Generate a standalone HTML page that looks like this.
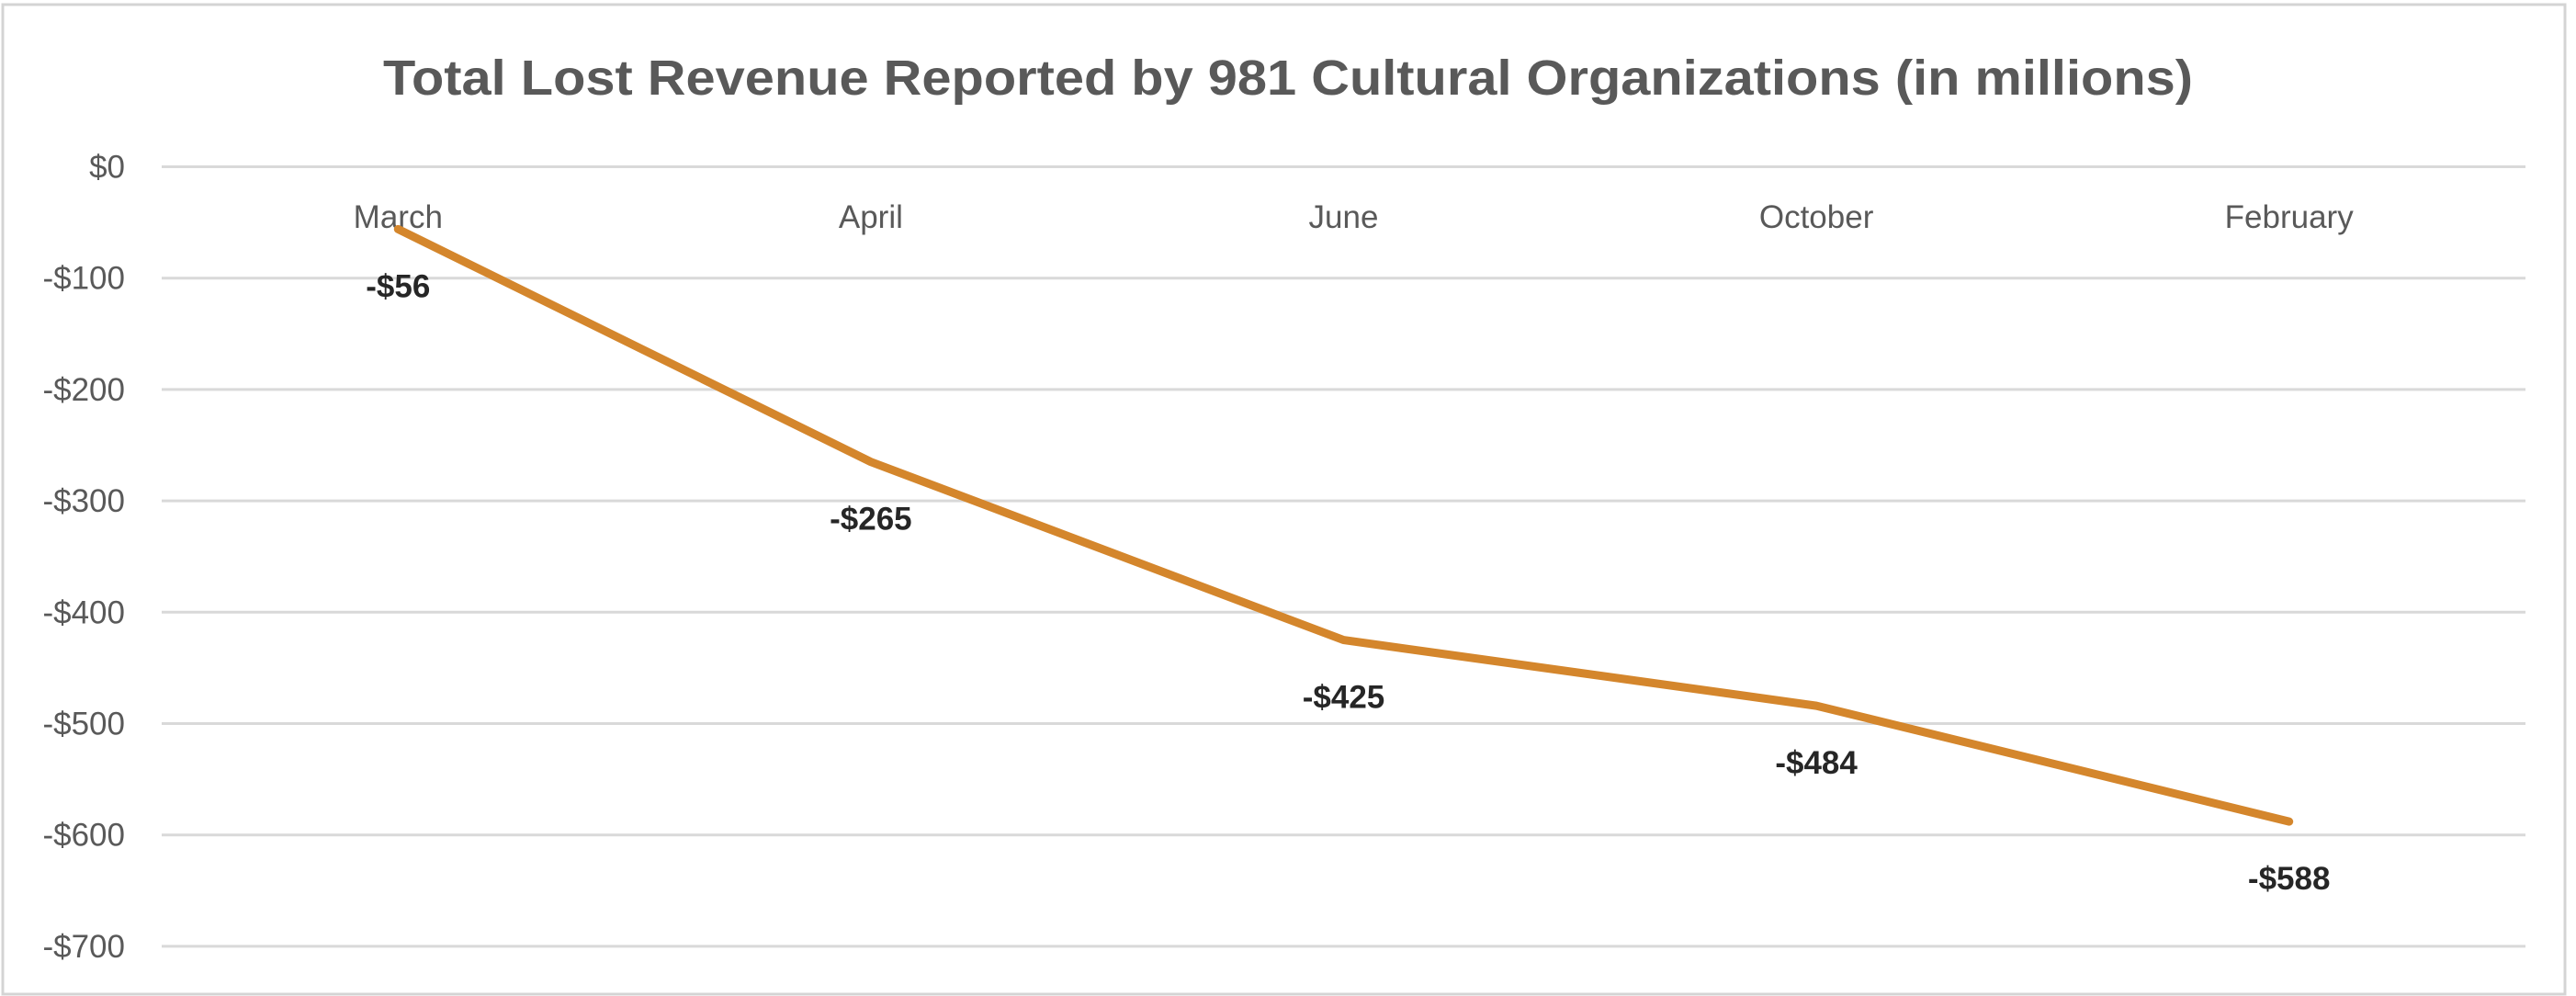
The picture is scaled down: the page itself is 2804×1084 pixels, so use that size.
<!DOCTYPE html>
<html><head><meta charset="utf-8"><style>
html,body{margin:0;padding:0;background:#fff;}
svg{display:block;font-family:"Liberation Sans",Carlito,sans-serif;}
</style></head><body>
<svg id="chart" width="2804" height="1084" viewBox="0 0 2804 1084" xmlns="http://www.w3.org/2000/svg">
<rect x="0" y="0" width="2804" height="1084" fill="#fff"/>
<rect x="3" y="5" width="2789" height="1077" fill="none" stroke="#d4d4d4" stroke-width="3"/>
<text x="1402" y="103" text-anchor="middle" font-size="54" font-weight="bold" fill="#595959" textLength="1970" lengthAdjust="spacingAndGlyphs">Total Lost Revenue Reported by 981 Cultural Organizations (in millions)</text>
<g id="grid"></g><g id="yaxis"></g><g id="xaxis"></g><g id="series"></g><g id="labels"></g>
</svg>
<script>
const categories = ["March","April","June","October","February"];
const values = [-56,-265,-425,-484,-588];
const valueLabels = ["-$56","-$265","-$425","-$484","-$588"];
const yTicks = [0,-100,-200,-300,-400,-500,-600,-700];
const yTickLabels = ["$0","-$100","-$200","-$300","-$400","-$500","-$600","-$700"];

const NS="http://www.w3.org/2000/svg";
const plotL=176, plotR=2749, y0=181.5, pxPerUnit=121.2/100;
function xScale(i){const w=(plotR-plotL)/categories.length;return plotL+w*(i+0.5);}
function yScale(v){return y0 - v*pxPerUnit;}
function mk(tag,attrs,parent){const e=document.createElementNS(NS,tag);for(const k in attrs)e.setAttribute(k,attrs[k]);parent.appendChild(e);return e;}

const grid=document.getElementById('grid'), yaxis=document.getElementById('yaxis');
yTicks.forEach((t,i)=>{
  const l=mk('line',{x1:plotL,x2:plotR,y1:yScale(t),y2:yScale(t),stroke:'#d9d9d9','stroke-width':3},grid);
  
  
  const tx=mk('text',{x:136,y:yScale(t)+12,'text-anchor':'end','font-size':35,fill:'#595959'},yaxis);
  tx.textContent=yTickLabels[i];
  
  
});
const xaxis=document.getElementById('xaxis');
categories.forEach((c,i)=>{
  const tx=mk('text',{x:xScale(i),y:248,'text-anchor':'middle','font-size':35,fill:'#595959'},xaxis);
  tx.textContent=c;
  
  
});
const series=document.getElementById('series');
const pts=values.map((v,i)=>xScale(i)+','+yScale(v)).join(' ');
const pl=mk('polyline',{points:pts,fill:'none',stroke:'#d4862c','stroke-width':9,'stroke-linejoin':'round','stroke-linecap':'round'},series);


const labels=document.getElementById('labels');
values.forEach((v,i)=>{
  const tx=mk('text',{x:xScale(i),y:yScale(v)+74,'text-anchor':'middle','font-size':35,'font-weight':'bold',fill:'#262626'},labels);
  tx.textContent=valueLabels[i];
  
  
});
</script>
</body></html>
